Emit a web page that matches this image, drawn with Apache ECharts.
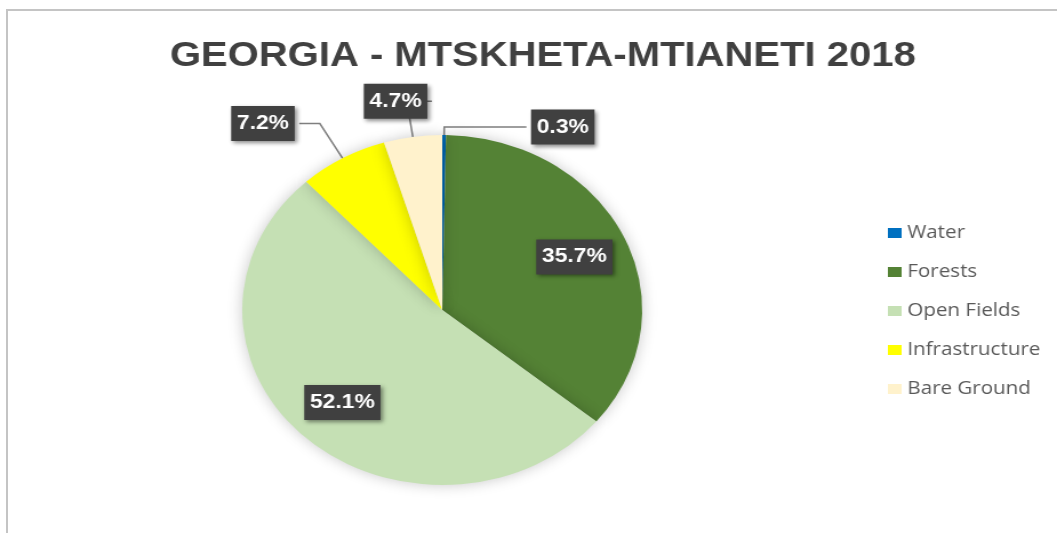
<!DOCTYPE html>
<html><head><meta charset="utf-8">
<script src="https://cdn.jsdelivr.net/npm/echarts@6/dist/echarts.min.js"></script>
<style>
html,body{margin:0;padding:0;background:#fff;width:1057px;height:533px;overflow:hidden}
#frame{position:absolute;left:6px;top:9px;width:1100px;height:600px;border-left:2px solid #c4c4c4;border-top:2px solid #c4c4c4;}
#chart{position:absolute;left:0;top:0;width:925px;height:533px;transform:scaleX(1.1427);transform-origin:0 0}
</style></head><body>
<div id="frame"></div>
<div id="chart"></div>
<script>
const titleText = 'GEORGIA - MTSKHETA-MTIANETI 2018';
const categories = ['Water', 'Forests', 'Open Fields', 'Infrastructure', 'Bare Ground'];
const values = [0.3, 35.7, 52.1, 7.2, 4.7];
const colors = ['#0070C0', '#548235', '#C5E0B4', '#FFFF00', '#FFF2CC'];
const insideLabelCats = ['Forests', 'Open Fields'];
const outsideLines = {
  'Water': { length: 8, length2: 72 },
  'Infrastructure': { length: 40, length2: 18 },
  'Bare Ground': { length: 36, length2: -22 }
};

const labelBox = {
  color: '#ffffff',
  fontFamily: "'Liberation Sans', Arial, sans-serif",
  fontWeight: 'bold',
  fontSize: 20,
  lineHeight: 20,
  backgroundColor: '#404040',
  padding: [8, 5, 7, 5],
  shadowColor: 'rgba(0,0,0,0.45)',
  shadowBlur: 4,
  shadowOffsetX: 2,
  shadowOffsetY: 2,
  formatter: '{d}%'
};

const center = [387, 310];
const R = 175;

const mainData = categories.map((name, i) => {
  const ol = outsideLines[name];
  return {
    name: name,
    value: values[i],
    itemStyle: { color: colors[i] },
    label: Object.assign({}, labelBox, { show: !!ol, position: 'outside', distanceToLabelLine: 4 }),
    labelLine: ol ? {
      show: true, length: ol.length, length2: ol.length2,
      minTurnAngle: 0, maxSurfaceAngle: 180,
      lineStyle: { color: '#7f7f7f', width: 1.5 }
    } : { show: false }
  };
});

const overlayData = categories.map((name, i) => ({
  name: name,
  value: values[i],
  itemStyle: { color: 'rgba(0,0,0,0)' },
  label: Object.assign({}, labelBox, { show: insideLabelCats.indexOf(name) >= 0, position: 'inside' })
}));

const chart = echarts.init(document.getElementById('chart'), null, { renderer: 'canvas' });
chart.setOption({
  animation: false,
  backgroundColor: 'transparent',
  title: {
    text: titleText,
    left: 470,
    top: 34,
    textAlign: 'center',
    textStyle: {
      fontFamily: "'Liberation Sans', Arial, sans-serif",
      fontWeight: 'bold',
      fontSize: 35,
      color: '#404040'
    }
  },
  legend: {
    orient: 'vertical',
    left: 777,
    top: 224,
    padding: 0,
    itemWidth: 12,
    itemHeight: 10,
    itemGap: 21,
    icon: 'rect',
    data: categories,
    textStyle: { color: '#595959', fontSize: 18, lineHeight: 17, fontFamily: "'Open Sans', sans-serif" }
  },
  series: [
    {
      type: 'pie',
      center: center,
      radius: [0, R],
      startAngle: 90,
      clockwise: true,
      percentPrecision: 1,
      avoidLabelOverlap: false,
      itemStyle: { shadowColor: 'rgba(0,0,0,0.22)', shadowBlur: 14 },
      emphasis: { disabled: true },
      data: mainData
    },
    {
      type: 'pie',
      center: center,
      radius: [0, R * 1.42],
      startAngle: 90,
      clockwise: true,
      percentPrecision: 1,
      silent: true,
      avoidLabelOverlap: false,
      labelLine: { show: false },
      emphasis: { disabled: true },
      data: overlayData
    }
  ]
});
</script>
</body></html>
